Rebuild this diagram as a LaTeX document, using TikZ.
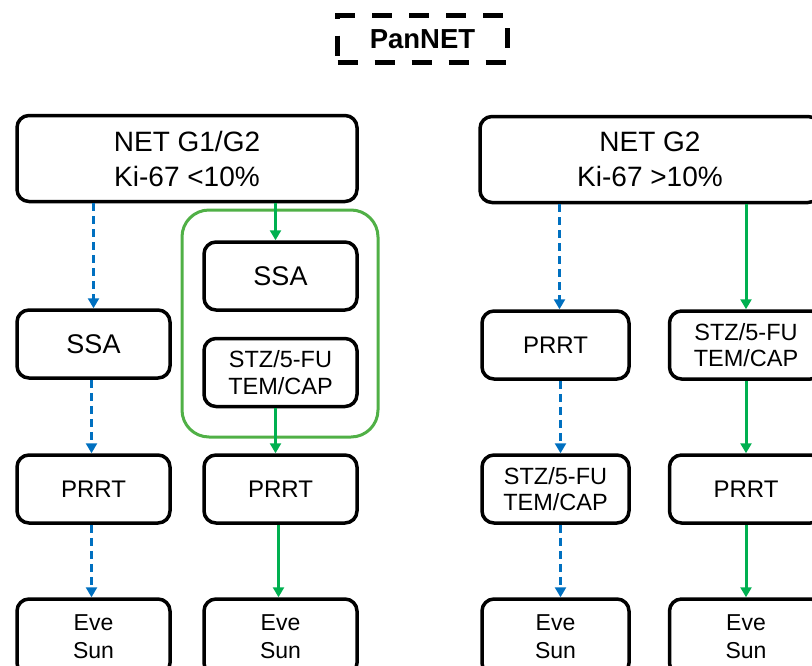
\documentclass[tikz,border=0pt]{standalone}
\usepackage{fontspec}
\setmainfont{Liberation Sans}
\usetikzlibrary{arrows.meta}
\definecolor{arblue}{RGB}{0,112,192}
\definecolor{argreen}{RGB}{0,176,80}
\definecolor{boxgreen}{RGB}{80,176,70}
\tikzset{
  box/.style={draw=black, line width=3.5pt, rounded corners=12pt, align=center,
    minimum width=153pt, minimum height=68pt, inner sep=0pt,
    font=\fontsize{24}{28}\selectfont},
  bigbox/.style={box, minimum width=340pt, minimum height=86pt,
    font=\fontsize{28}{35}\selectfont},
  ssatext/.style={font=\fontsize{27}{30}\selectfont},
  smalltext/.style={font=\fontsize{23.5}{26.5}\selectfont},
  evetext/.style={font=\fontsize{23}{28}\selectfont},
  bluearrow/.style={draw=arblue, line width=3pt, dash pattern=on 8pt off 5pt,
    -{Triangle[width=11pt,length=10pt]}},
  greenarrow/.style={draw=argreen, line width=3pt,
    -{Triangle[width=11pt,length=10pt]}},
}
\begin{document}
\begin{tikzpicture}[x=1pt,y=-1pt]
\useasboundingbox (0,0) rectangle (812,665);
\clip (0,0) rectangle (812,665);

% title
\node[draw=black, line width=5pt, dash pattern=on 20pt off 17pt,
  minimum width=170pt, minimum height=47pt, inner sep=0pt,
  font=\fontsize{27.5}{30}\selectfont\bfseries] (title) at (422.5,39) {PanNET};

% green group
\draw[draw=boxgreen, line width=3pt, rounded corners=27pt] (182,210) rectangle (378,437);

% left tree
\node[bigbox] (top1) at (187,158.5) {NET G1/G2\\Ki-67 <10\%};
\node[box, ssatext] (ssaG) at (280.5,276) {SSA};
\node[box, smalltext] (stzG) at (280.5,372.5) {STZ/5-FU\\TEM/CAP};
\node[box, ssatext] (ssaL) at (93.5,344) {SSA};
\node[box] (prrtL) at (93.5,489) {PRRT};
\node[box] (prrtM) at (280.5,489) {PRRT};
\node[box, minimum height=76pt, evetext] (eveL) at (93.5,637) {Eve\\Sun};
\node[box, minimum height=76pt, evetext] (eveM) at (280.5,637) {Eve\\Sun};

% right tree
\node[bigbox] (top2) at (650,159.5) {NET G2\\Ki-67 >10\%};
\node[box, minimum width=147pt] (prrtR) at (555.5,345) {PRRT};
\node[box, smalltext] (stzR) at (746,345) {STZ/5-FU\\TEM/CAP};
\node[box, minimum width=147pt, smalltext] (stzR2) at (555.5,489) {STZ/5-FU\\TEM/CAP};
\node[box] (prrtR2) at (746,489) {PRRT};
\node[box, minimum width=147pt, minimum height=76pt, evetext] (eveR1) at (555.5,637) {Eve\\Sun};
\node[box, minimum height=76pt, evetext] (eveR2) at (746,637) {Eve\\Sun};

% arrows left
\draw[bluearrow] (top1.south -| ssaL.north) -- (ssaL.north);
\draw[bluearrow] ([xshift=-2pt]ssaL.south) -- ([xshift=-2pt]prrtL.north);
\draw[bluearrow] ([xshift=-2pt]prrtL.south) -- ([xshift=-2pt]eveL.north);
\draw[greenarrow] ([xshift=-5pt]top1.south -| ssaG.north) -- ([xshift=-5pt]ssaG.north);
\draw[greenarrow] ([xshift=-5pt]stzG.south) -- ([xshift=-5pt]prrtM.north);
\draw[greenarrow] ([xshift=-2pt]prrtM.south) -- ([xshift=-2pt]eveM.north);

% arrows right
\draw[bluearrow] ([xshift=4pt]top2.south -| prrtR.north) -- ([xshift=4pt]prrtR.north);
\draw[bluearrow] ([xshift=5pt]prrtR.south) -- ([xshift=5pt]stzR2.north);
\draw[bluearrow] ([xshift=5pt]stzR2.south) -- ([xshift=5pt]eveR1.north);
\draw[greenarrow] (top2.south -| stzR.north) -- (stzR.north);
\draw[greenarrow] (stzR.south) -- (prrtR2.north);
\draw[greenarrow] (prrtR2.south) -- (eveR2.north);
\end{tikzpicture}
\end{document}
